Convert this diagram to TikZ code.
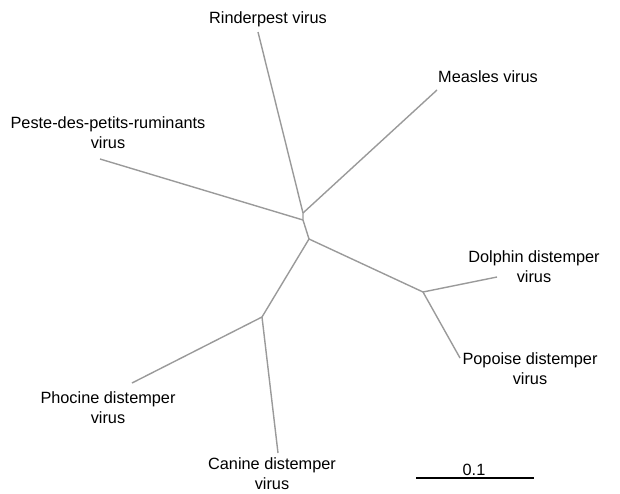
\documentclass[tikz,border=0pt]{standalone}
\usepackage{fontspec}
\setmainfont{Liberation Sans}
\definecolor{BranchGray}{HTML}{9A9A9A}
\usetikzlibrary{positioning}

\begin{document}
\begin{tikzpicture}[
    x=1pt, y=-1pt,
    branch/.style={draw=BranchGray, line width=1.4pt},
    taxon/.style={align=center, font=\fontsize{16.3}{20}\selectfont, inner sep=0pt}
  ]
  \useasboundingbox (0,0) rectangle (620,493);

  % inner nodes of the tree
  \coordinate (jMeasles) at (303,213);
  \coordinate (jPPR) at (303,220);
  \coordinate (jMain) at (309,239);
  \coordinate (jMarine) at (423,292);
  \coordinate (jLand) at (262,317);

  % tips
  \coordinate (tRinderpest) at (258,32);
  \coordinate (tMeasles) at (437,90);
  \coordinate (tPPR) at (100,159);
  \coordinate (tDolphin) at (497,277);
  \coordinate (tPorpoise) at (460,358);
  \coordinate (tPhocine) at (132,383);
  \coordinate (tCanine) at (278,453);

  % branches
  \draw[branch] (tRinderpest) -- (jMeasles) -- (jPPR) -- (jMain);
  \draw[branch] (jMeasles) -- (tMeasles);
  \draw[branch] (jPPR) -- (tPPR);
  \draw[branch] (jMain) -- (jMarine);
  \draw[branch] (jMarine) -- (tDolphin);
  \draw[branch] (jMarine) -- (tPorpoise);
  \draw[branch] (jMain) -- (jLand);
  \draw[branch] (jLand) -- (tPhocine);
  \draw[branch] (jLand) -- (tCanine);

  % labels
  \node[taxon] (rinderpest) at (268,19) {Rinderpest virus};
  \node[taxon] (measles) at (488,77) {Measles virus};
  \node[taxon] (ppr) at (108,133) {Peste-des-petits-ruminants\\virus};
  \node[taxon] (dolphin) at (534,267) {Dolphin distemper\\virus};
  \node[taxon] (porpoise) at (530,369) {Popoise distemper\\virus};
  \node[taxon] (phocine) at (108,408) {Phocine distemper\\virus};
  \node[taxon] (canine) at (272,474) {Canine distemper\\virus};

  % scale bar
  \coordinate (barL) at (416,478);
  \coordinate (barR) at (534,478);
  \draw[black, line width=1.1pt] (barL) -- (barR);
  \node[taxon, above=3pt of barL, xshift=58pt, anchor=base] (scale) {0.1};
\end{tikzpicture}
\end{document}
